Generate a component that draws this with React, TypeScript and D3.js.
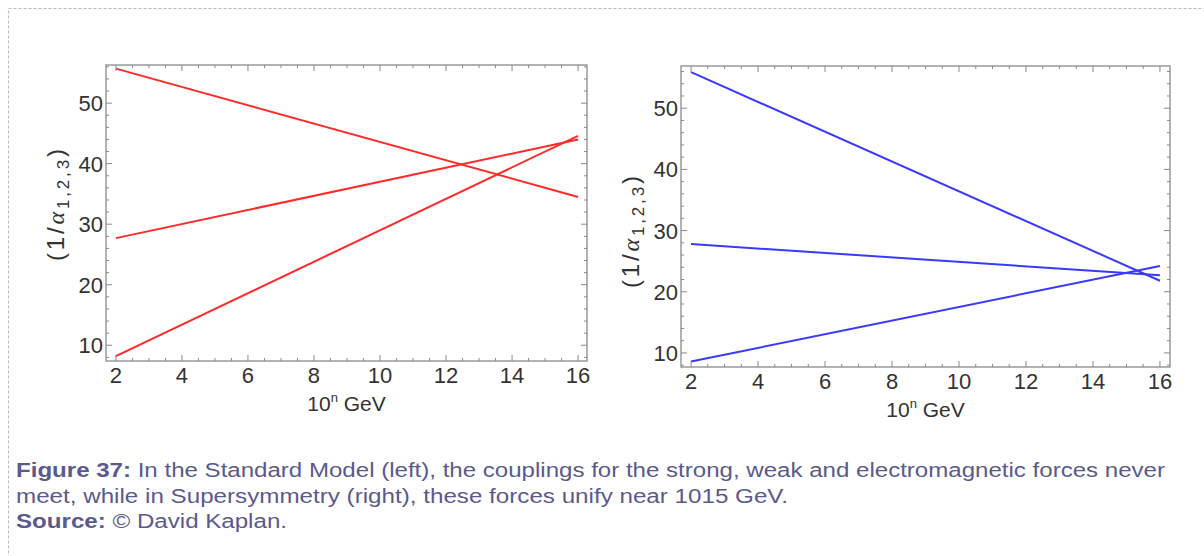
import React from "react";
import * as d3 from "d3";

// ---- Data ----
const energyN = [2, 16]; // x = n in 10^n GeV

// Standard Model (left panel)
const smAlpha1 = [55.7, 34.5];
const smAlpha2 = [27.7, 44.0];
const smAlpha3 = [8.2, 44.6];

// Supersymmetry (right panel)
const susyAlpha1 = [55.9, 21.8];
const susyAlpha2 = [27.8, 22.7];
const susyAlpha3 = [8.6, 24.2];

const xTicks = [2, 4, 6, 8, 10, 12, 14, 16];
const yTicks = [10, 20, 30, 40, 50];

const captionLines = [
  { bold: "Figure 37:", text: " In the Standard Model (left), the couplings for the strong, weak and electromagnetic forces never", width: 1149 },
  { bold: "", text: "meet, while in Supersymmetry (right), these forces unify near 1015 GeV.", width: 772 },
  { bold: "Source:", text: " © David Kaplan.", width: 271 },
];

const FONT = "Liberation Sans, Arial, Helvetica, sans-serif";

type PanelProps = {
  x0: number; x1: number; y0: number; y1: number;
  xDomain: [number, number]; yDomain: [number, number];
  series: number[][];
  color: string;
  yTitleCenter: number;
};

function Panel({ x0, x1, y0, y1, xDomain, yDomain, series, color, yTitleCenter }: PanelProps) {
  const x = d3.scaleLinear().domain(xDomain).range([x0, x1]);
  const y = d3.scaleLinear().domain(yDomain).range([y1, y0]);
  const line = d3
    .line<[number, number]>()
    .x((d) => x(d[0]))
    .y((d) => y(d[1]));

  const xMinor = d3.range(Math.ceil(xDomain[0] * 2) / 2, xDomain[1], 0.5);
  const yMinor = d3.range(Math.ceil(yDomain[0] / 2) * 2, yDomain[1], 2);
  const tickColor = "#8a8a8a";

  const ticks: JSX.Element[] = [];
  xMinor.forEach((v, i) => {
    const major = Math.abs(v % 2) < 1e-6;
    const len = major ? 6 : 3;
    const px = x(v);
    ticks.push(<line key={"xb" + i} x1={px} x2={px} y1={y1} y2={y1 - len} stroke={tickColor} strokeWidth={1} />);
    ticks.push(<line key={"xt" + i} x1={px} x2={px} y1={y0} y2={y0 + len} stroke={tickColor} strokeWidth={1} />);
  });
  yMinor.forEach((v, i) => {
    const major = Math.abs(v % 10) < 1e-6;
    const len = major ? 6 : 3;
    const py = y(v);
    ticks.push(<line key={"yl" + i} x1={x0} x2={x0 + len} y1={py} y2={py} stroke={tickColor} strokeWidth={1} />);
    ticks.push(<line key={"yr" + i} x1={x1} x2={x1 - len} y1={py} y2={py} stroke={tickColor} strokeWidth={1} />);
  });

  return (
    <g>
      {series.map((s, i) => (
        <path
          key={i}
          d={line(energyN.map((n, j) => [n, s[j]] as [number, number])) || ""}
          fill="none"
          stroke={color}
          strokeWidth={2}
        />
      ))}
      <rect x={x0} y={y0} width={x1 - x0} height={y1 - y0} fill="none" stroke="#9a9a9a" strokeWidth={1.5} />
      {ticks}
      {xTicks.map((t) => (
        <text key={"xl" + t} x={x(t)} y={y1 + 22} textAnchor="middle" fontSize={22} fill="#333" fontFamily={FONT}>
          {t}
        </text>
      ))}
      {yTicks.map((t) => (
        <text key={"yl" + t} x={x0 - 3} y={y(t) + 8} textAnchor="end" fontSize={22} fill="#333" fontFamily={FONT}>
          {t}
        </text>
      ))}
      <text x={(x0 + x1) / 2} y={y1 + 50} textAnchor="middle" fontSize={21} fill="#333" fontFamily={FONT}>
        10<tspan dy={-9} fontSize={13}>n</tspan>
        <tspan dy={9}> GeV</tspan>
      </text>
      <text
        transform={`translate(${x0 - 42},${yTitleCenter}) rotate(-90)`}
        textAnchor="middle"
        fontSize={24}
        fill="#333"
        fontFamily={FONT}
        textLength={112}
        lengthAdjust="spacing"
      >
        (1/<tspan fontStyle="italic" fontFamily="Liberation Serif, Times New Roman, serif">α</tspan>
        <tspan dy={5} fontSize={17}>1,2,3</tspan>
        <tspan dy={-5}>)</tspan>
      </text>
    </g>
  );
}

export default function App() {
  const W = 1204;
  const H = 556;
  return (
    <svg
      width={W}
      height={H}
      style={{ position: "absolute", left: 0, top: 0, background: "#fff" }}
    >
      <rect x={0} y={0} width={W} height={H} fill="#fff" />
      <rect x={8.5} y={8.5} width={W + 20} height={H + 20} fill="none" stroke="#b8b8c8" strokeWidth={1} strokeDasharray="3,2" />
      <Panel
        x0={106} x1={587} y0={65} y1={361}
        xDomain={[1.7, 16.27]} yDomain={[7.4, 56.3]}
        series={[smAlpha1, smAlpha2, smAlpha3]}
        color="#ff2a2a"
        yTitleCenter={205}
      />
      <Panel
        x0={681} x1={1170} y0={66} y1={367}
        xDomain={[1.7, 16.3]} yDomain={[7.7, 56.9]}
        series={[susyAlpha1, susyAlpha2, susyAlpha3]}
        color="#3a3aff"
        yTitleCenter={232}
      />
      {captionLines.map((c, i) => (
        <text
          key={i}
          x={16}
          y={477 + i * 25.5}
          fontSize={20}
          fill="#5a5a8e"
          fontFamily={FONT}
          textLength={c.width}
          lengthAdjust="spacingAndGlyphs"
        >
          {c.bold ? <tspan fontWeight="bold">{c.bold}</tspan> : null}
          <tspan>{c.text}</tspan>
        </text>
      ))}
    </svg>
  );
}
